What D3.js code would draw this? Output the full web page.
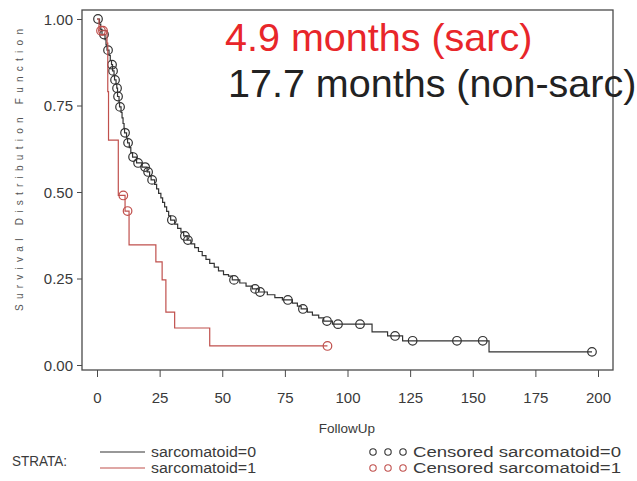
<!DOCTYPE html>
<html>
<head>
<meta charset="utf-8">
<script src="https://cdn.jsdelivr.net/npm/d3@7"></script>
<style>
  html, body { margin: 0; padding: 0; background: #fff; }
  svg { display: block; }
  text { font-family: "Liberation Sans", Arial, sans-serif; }
</style>
</head>
<body>
<svg id="chart" width="637" height="481"></svg>
<script>
// Kaplan-Meier estimates: event times (months) and survival after each event
const nonSarcTimes = [1.0, 1.5, 2.0, 3.2, 3.6, 4.0, 4.8, 5.3, 5.8, 6.2, 6.8, 7.0, 7.6, 7.9, 8.2, 8.8, 9.0, 9.6, 10.0, 10.4, 10.8, 11.0, 11.8, 12.2, 12.9, 13.5, 14.2, 15.8, 18.0, 20.0, 21.0, 21.6, 23.0, 23.8, 24.6, 25.5, 26.2, 27.0, 27.8, 28.6, 29.4, 31.0, 32.2, 33.5, 34.6, 36.0, 37.5, 39.0, 40.5, 42.0, 43.5, 45.0, 46.8, 48.5, 50.5, 52.5, 54.0, 57.0, 59.5, 62.0, 64.5, 68.0, 71.0, 74.0, 78.0, 80.0, 81.5, 84.0, 86.0, 88.5, 90.5, 94.0, 109.8, 116.0, 122.0, 156.5];
const nonSarcSurv  = [0.985, 0.970, 0.955, 0.940, 0.925, 0.910, 0.895, 0.880, 0.868, 0.850, 0.836, 0.824, 0.812, 0.800, 0.776, 0.760, 0.746, 0.730, 0.714, 0.698, 0.684, 0.671, 0.656, 0.642, 0.628, 0.614, 0.601, 0.584, 0.572, 0.558, 0.546, 0.535, 0.522, 0.509, 0.496, 0.483, 0.470, 0.457, 0.444, 0.431, 0.419, 0.407, 0.395, 0.384, 0.373, 0.361, 0.350, 0.339, 0.328, 0.316, 0.305, 0.294, 0.283, 0.272, 0.261, 0.257, 0.246, 0.237, 0.228, 0.220, 0.211, 0.203, 0.195, 0.188, 0.179, 0.170, 0.162, 0.153, 0.144, 0.136, 0.127, 0.118, 0.096, 0.084, 0.070, 0.038];
const nonSarcCensored = [0.4, 2.8, 4.4, 6.0, 6.4, 7.2, 8.0, 8.4, 9.2, 11.2, 12.4, 14.4, 16.4, 19.2, 20.4, 22.0, 29.9, 35.1, 36.3, 54.7, 63.1, 65.1, 76.2, 82.2, 91.8, 96.2, 105.0, 119.0, 126.0, 143.7, 154.0, 197.6];

const sarcTimes = [0.8, 4.0, 4.3, 4.6, 8.5, 11.2, 12.8, 23.5, 26.0, 27.5, 31.0, 45.0];
const sarcSurv  = [0.966, 0.930, 0.790, 0.650, 0.490, 0.445, 0.347, 0.298, 0.246, 0.153, 0.107, 0.055];
const sarcCensored = [1.6, 2.4, 10.5, 12.2, 92.0];

const xTicks = [0, 25, 50, 75, 100, 125, 150, 175, 200];
const yTicks = [0, 0.25, 0.5, 0.75, 1.0];

const svg = d3.select("#chart");
const frame = { left: 82, right: 613, top: 10, bottom: 370 };

const x = d3.scaleLinear().domain([0, 200]).range([97, 598]);
const y = d3.scaleLinear().domain([0, 1]).range([365, 19]);

const axisColor = "#4a4a4a";
const labelColor = "#3a3a3a";

// plot frame
svg.append("rect")
  .attr("x", frame.left).attr("y", frame.top)
  .attr("width", frame.right - frame.left).attr("height", frame.bottom - frame.top)
  .attr("fill", "none").attr("stroke", axisColor).attr("stroke-width", 1.3);

// y axis
const yAxis = svg.append("g")
  .attr("transform", `translate(${frame.left},0)`)
  .call(d3.axisLeft(y).tickValues(yTicks).tickFormat(d3.format(".2f")).tickSize(5).tickSizeOuter(0));
yAxis.select(".domain").remove();
yAxis.selectAll("line").attr("stroke", axisColor);
yAxis.selectAll("text").attr("font-size", 15).attr("fill", labelColor)
  .attr("x", -9).attr("dy", "0.36em");

// x axis
const xAxis = svg.append("g")
  .attr("transform", `translate(0,${frame.bottom})`)
  .call(d3.axisBottom(x).tickValues(xTicks).tickFormat(d3.format("d")).tickSize(7).tickSizeOuter(0));
xAxis.select(".domain").remove();
xAxis.selectAll("line").attr("stroke", axisColor);
xAxis.selectAll("text").attr("font-size", 15).attr("fill", labelColor)
  .attr("y", 33).attr("dy", null);

// axis titles
svg.append("text")
  .attr("x", 347).attr("y", 433)
  .attr("text-anchor", "middle").attr("font-size", 13.5).attr("fill", labelColor)
  .text("FollowUp");

svg.append("text")
  .attr("transform", "translate(23,170) rotate(-90)")
  .attr("text-anchor", "middle")
  .attr("font-family", "'DejaVu Sans Mono', monospace")
  .attr("font-size", 10).attr("fill", "#555")
  .attr("textLength", 282).attr("lengthAdjust", "spacing")
  .text("Survival Distribution Function");

// step function helpers
function stepPoints(times, surv, endTime) {
  const pts = [[0, 1]];
  times.forEach((t, i) => pts.push([t, surv[i]]));
  pts.push([endTime, surv[surv.length - 1]]);
  return pts;
}
function survAt(times, surv, t) {
  let s = 1;
  times.forEach((ti, i) => { if (ti <= t) s = surv[i]; });
  return s;
}

const line = d3.line().x(d => x(d[0])).y(d => y(d[1])).curve(d3.curveStepAfter);

const groups = [
  { times: nonSarcTimes, surv: nonSarcSurv, cens: nonSarcCensored, color: "#333333" },
  { times: sarcTimes, surv: sarcSurv, cens: sarcCensored, color: "#c0504d" }
];

groups.forEach(g => {
  const end = d3.max([d3.max(g.times), d3.max(g.cens)]);
  svg.append("path")
    .datum(stepPoints(g.times, g.surv, end))
    .attr("d", line)
    .attr("fill", "none").attr("stroke", g.color).attr("stroke-width", 1.2);
  svg.selectAll(null)
    .data(g.cens)
    .enter().append("circle")
    .attr("cx", d => x(d))
    .attr("cy", d => y(survAt(g.times, g.surv, d)))
    .attr("r", 4.3)
    .attr("fill", "none").attr("stroke", g.color).attr("stroke-width", 1.2);
});

// median survival annotations
svg.append("text")
  .attr("x", 225).attr("y", 51)
  .attr("font-size", 39.5).attr("fill", "#e8262a")
  .text("4.9 months (sarc)");
svg.append("text")
  .attr("x", 228).attr("y", 97)
  .attr("font-size", 39.5).attr("fill", "#222")
  .text("17.7 months (non-sarc)");

// legend (wide lettering, stretched to a fixed run length)
const legendFont = 14;
function legendText(xPos, yPos, str, len) {
  svg.append("text").attr("x", xPos).attr("y", yPos)
    .attr("font-size", legendFont).attr("fill", labelColor)
    .attr("textLength", len).attr("lengthAdjust", "spacingAndGlyphs")
    .text(str);
}
legendText(12, 466, "STRATA:", 55);

const strata = [
  { label: "sarcomatoid=0", cens: "Censored sarcomatoid=0", color: "#333333", y: 452 },
  { label: "sarcomatoid=1", cens: "Censored sarcomatoid=1", color: "#c0504d", y: 468 }
];
strata.forEach(s => {
  svg.append("line")
    .attr("x1", 100).attr("x2", 145).attr("y1", s.y).attr("y2", s.y)
    .attr("stroke", s.color).attr("stroke-width", 1.2);
  legendText(151, s.y + 5, s.label, 105);
  [373, 388, 403].forEach(cx => {
    svg.append("circle").attr("cx", cx).attr("cy", s.y).attr("r", 3.2)
      .attr("fill", "none").attr("stroke", s.color).attr("stroke-width", 1.1);
  });
  legendText(413, s.y + 5, s.cens, 208);
});
</script>
</body>
</html>
